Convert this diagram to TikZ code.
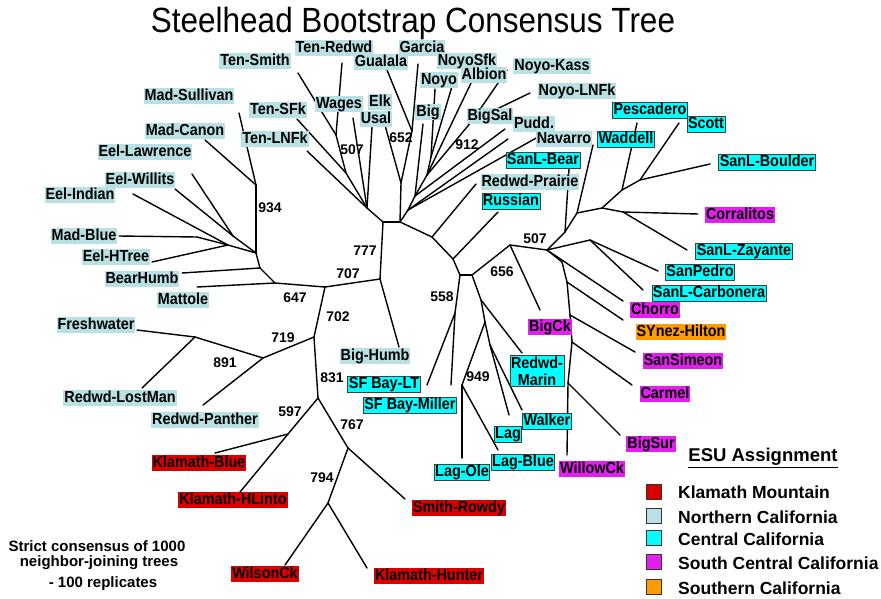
\documentclass[tikz,border=0pt]{standalone}
\usepackage{fontspec}
\setmainfont{Liberation Sans}
\newfontfamily\narrowsans{Liberation Sans}[FakeStretch=0.9]
\definecolor{nocal}{HTML}{B9E0E3}
\definecolor{cencal}{HTML}{00FFFF}
\definecolor{sccal}{HTML}{E41EF0}
\definecolor{klam}{HTML}{DA0000}
\definecolor{socal}{HTML}{FF9A00}

\begin{document}
\begin{tikzpicture}[x=1pt,y=-1pt,
    br/.style={line width=1.4pt,line cap=round},
    lab/.style={font=\narrowsans\fontsize{16}{17}\selectfont\bfseries,inner sep=1pt,text height=11.3pt,text depth=2.8pt},
    nor/.style={lab,fill=nocal},
    cen/.style={lab,fill=cencal,draw=black!75,line width=0.9pt},
    scc/.style={lab,fill=sccal},
    kla/.style={lab,fill=klam},
    soc/.style={lab,fill=socal},
    bs/.style={font=\fontsize{14}{16}\selectfont\bfseries,inner sep=0pt},
    key/.style={draw=black!80,line width=0.9pt,minimum width=15pt,minimum height=15pt,inner sep=0pt},
    keytxt/.style={font=\fontsize{17.5}{20}\selectfont\bfseries,anchor=west,inner sep=0pt}]
\useasboundingbox (0,0) rectangle (881,598);

% inner nodes of the tree
\foreach \n/\x/\y in {A/256/185, B/256/253, EW/233/236, EI/228/245, mb/197/237,
    BH/260/268, BB/275/283, C/325/287, D/380/279, E/383/222, F/400/222,
    W/367/208, N1/336/135, N2/346/173, Q/401/183, P/412/131, T/408/210,
    V3/415/196, V2/427/175, V1/431/157, R/472/121, X/432/237, Y/453/259,
    Z/460/275, AA/472/275, AB/455/313, AC/510/245, AD/547/250, AI/565/232,
    AJ/577/213, AK/602/208, AL/622/190, AM/640/180, AN/623/212, AO/590/240,
    AP/562/262, AQ/567/282, AR/570/315, AS/572/342, AT/568/383, AG/481/300,
    AE/485/322, AH/490/345, AF/462/385, G/314/337, I/263/358, J/195/337,
    H/318/398, K/288/434, L/348/448, M/328/503}
  \coordinate (\n) at (\x,\y);

% tips of the leaves
\foreach \n/\x/\y in {madsul/239/113, madcan/205/140, eellaw/192/174, eelwil/175/189,
    eelind/133/194, madblue/119/236, eelhtr/152/262, bearh/182/273, mattole/197/287,
    fresh/137/330, lostman/142/388, panther/203/405, klblue/215/453, hlinto/240/492,
    smith/405/499, wilson/285/565, hunter/367/568, bighumb/399/347, sfblt/427/385,
    sfbmil/451/385, lagole/462/458, lagblue/498/450, lag/509/415, walker/522/410,
    redmarin/522/353, bigck/540/310, willow/567/455, bigsur/620/435, carmel/632/385,
    sansim/635/352, synez/623/320, chorro/623/301, sanlcarb/643/290, sanped/658/271,
    sanlzay/687/250, corral/698/214, sanlboul/710/164, scott/679/123, pesc/637/123,
    waddell/593/145, sanlbear/569/169, russian/498/212, redprai/476/184,
    navarro/538/137, pudd/505/129, bigsal/508/139, noyolnfk/530/93, noyokass/507/70,
    albion/471/83, noyosfk/453/83, noyo/435/89, big/423/124, garcia/418/64,
    gualala/387/70, elk/383/118, usal/372/127, wages/353/118, tenredwd/342/63,
    tensmith/298/73, tensfk/297/119, tenlnfk/307/151}
  \coordinate (\n) at (\x,\y);

% branches
\foreach \a/\b in {A/B, madsul/A, madcan/A, eellaw/EW, eelwil/EW, EW/B, eelind/EI,
    madblue/mb, mb/EI, eelhtr/EI, EI/B, B/BH, bearh/BH, BH/BB, mattole/BB, BB/C,
    C/D, D/E, D/bighumb, E/W, E/F, W/N2, N2/N1, N1/tensmith, N1/tenredwd, N2/tensfk,
    W/wages, W/usal, W/tenlnfk, F/Q, Q/P, P/gualala, P/garcia, Q/elk, F/T, T/navarro,
    T/bigsal, T/V3, V3/pudd, V3/big, V3/V2, V2/V1, V1/noyo, V1/noyosfk, V2/albion,
    V2/R, R/noyokass, R/noyolnfk, F/X, X/redprai, X/Y, Y/russian, Y/Z, Z/AA, Z/AB,
    AB/sfblt, AB/sfbmil, AA/AC, AC/bigck, AC/AD, AD/AI, AI/sanlbear, AI/AJ,
    AJ/waddell, AJ/AK, AK/AL, AL/pesc, AL/AM, AM/scott, AM/sanlboul, AK/AN,
    AN/corral, AN/sanlzay, AD/AO, AO/sanped, AO/sanlcarb, AD/chorro, AD/AP, AP/AQ,
    AQ/synez, AQ/AR, AR/sansim, AR/AS, AS/carmel, AS/AT, AT/bigsur, AT/willow,
    AA/AG, AG/redmarin, AG/AE, AE/AF, AF/lagole, AF/lagblue, AE/AH, AH/lag,
    AH/walker, C/G, G/I, I/J, J/fresh, J/lostman, I/panther, G/H, H/K, K/klblue,
    K/hlinto, H/L, L/smith, L/M, M/wilson, M/hunter}
  \draw[br] (\a) -- (\b);

% bootstrap values
\node[bs] (b934) at (270,208) {934};
\node[bs] (b777) at (365,251) {777};
\node[bs] (b707) at (348,274) {707};
\node[bs] (b647) at (295,298) {647};
\node[bs] (b702) at (338,317) {702};
\node[bs] (b719) at (283,338) {719};
\node[bs] (b891) at (225,363) {891};
\node[bs] (b831) at (332,378) {831};
\node[bs] (b597) at (290,412) {597};
\node[bs] (b767) at (352,425) {767};
\node[bs] (b794) at (322,478) {794};
\node[bs] (b507a) at (352,150) {507};
\node[bs] (b652) at (401,138) {652};
\node[bs] (b912) at (467,145) {912};
\node[bs] (b558) at (442,297) {558};
\node[bs] (b656) at (502,272) {656};
\node[bs] (b507b) at (535,239) {507};
\node[bs] (b949) at (478,377) {949};

% Northern California
\node[nor] (lTenSmith) at (255,61) {Ten-Smith};
\node[nor] (lTenRedwd) at (334,48) {Ten-Redwd};
\node[nor] (lGualala) at (381,62) {Gualala};
\node[nor] (lGarcia) at (422,48) {Garcia};
\node[nor] (lNoyoSfk) at (467,61) {NoyoSfk};
\node[nor] (lNoyo) at (439,80) {Noyo};
\node[nor] (lAlbion) at (484,75) {Albion};
\node[nor] (lNoyoKass) at (552,66) {Noyo-Kass};
\node[nor] (lNoyoLNFk) at (577,91) {Noyo-LNFk};
\node[nor] (lMadSul) at (189,96) {Mad-Sullivan};
\node[nor] (lTenSFk) at (278,110) {Ten-SFk};
\node[nor] (lWages) at (339,104) {Wages};
\node[nor] (lElk) at (380,102) {Elk};
\node[nor] (lUsal) at (376,119) {Usal};
\node[nor] (lBig) at (428,112) {Big};
\node[nor] (lBigSal) at (490,116) {BigSal};
\node[nor] (lPudd) at (534,124) {Pudd.};
\node[nor] (lMadCan) at (185,131) {Mad-Canon};
\node[nor] (lTenLNFk) at (275,139) {Ten-LNFk};
\node[nor] (lNavarro) at (564,139) {Navarro};
\node[nor] (lEelLaw) at (145,152) {Eel-Lawrence};
\node[nor] (lEelWil) at (140,180) {Eel-Willits};
\node[nor] (lEelInd) at (80,195) {Eel-Indian};
\node[nor] (lMadBlue) at (84,236) {Mad-Blue};
\node[nor] (lEelHTr) at (116,257) {Eel-HTree};
\node[nor] (lBearH) at (142,279) {BearHumb};
\node[nor] (lMattole) at (183,300) {Mattole};
\node[nor] (lRedPrai) at (530,182) {Redwd-Prairie};
\node[nor] (lFresh) at (96,325) {Freshwater};
\node[nor] (lLostMan) at (120,398) {Redwd-LostMan};
\node[nor] (lPanther) at (205,420) {Redwd-Panther};
\node[nor] (lBigHumb) at (375,356) {Big-Humb};

% Central California
\node[cen] (lSanLBear) at (543,160) {SanL-Bear};
\node[cen] (lRussian) at (511,201) {Russian};
\node[cen] (lPesc) at (650,110) {Pescadero};
\node[cen] (lScott) at (706,124) {Scott};
\node[cen] (lWaddell) at (626,139) {Waddell};
\node[cen] (lSanLBoul) at (767,162) {SanL-Boulder};
\node[cen] (lSanLZay) at (744,251) {SanL-Zayante};
\node[cen] (lSanPed) at (700,272) {SanPedro};
\node[cen] (lSanLCarb) at (709,293) {SanL-Carbonera};
\node[cen] (lSFBLT) at (384,384) {SF Bay-LT};
\node[cen] (lSFBMil) at (410,405) {SF Bay-Miller};
\node[cen,text height=,text depth=,align=center] (lRedMarin) at (537,371) {Redwd-\\Marin};
\node[cen] (lWalker) at (547,421) {Walker};
\node[cen] (lLag) at (508,434) {Lag};
\node[cen] (lLagBlue) at (523,462) {Lag-Blue};
\node[cen] (lLagOle) at (462,472) {Lag-Ole};

% South Central and Southern California
\node[scc] (lCorral) at (740,215) {Corralitos};
\node[scc] (lChorro) at (655,310) {Chorro};
\node[soc] (lSYnez) at (681,332) {SYnez-Hilton};
\node[scc] (lSanSim) at (683,361) {SanSimeon};
\node[scc] (lCarmel) at (665,394) {Carmel};
\node[scc] (lBigSur) at (651,444) {BigSur};
\node[scc] (lWillow) at (592,469) {WillowCk};
\node[scc] (lBigCk) at (550,327) {BigCk};

% Klamath Mountain
\node[kla] (lKlBlue) at (199,463) {Klamath-Blue};
\node[kla] (lHLinto) at (233,500) {Klamath-HLinto};
\node[kla] (lSmith) at (459,508) {Smith-Rowdy};
\node[kla] (lWilson) at (265,574) {WilsonCk};
\node[kla] (lHunter) at (429,576) {Klamath-Hunter};

% title and note
\node (title) at (413,23) {\narrowsans\fontsize{35}{40}\selectfont Steelhead Bootstrap Consensus Tree};
\node[bs,font=\fontsize{15}{17}\selectfont\bfseries] (note1) at (97,546) {Strict consensus of 1000};
\node[bs,font=\fontsize{15}{17}\selectfont\bfseries] (note2) at (99,563) {neighbor-joining trees};
\node[bs,font=\fontsize{15}{17}\selectfont\bfseries] (note3) at (103,584) {- 100 replicates};

% legend
\node[font=\fontsize{18.5}{21}\selectfont\bfseries,inner sep=0pt] (esu) at (763,458) {\underline{ESU Assignment}};
\node[key,fill=klam] (kKla) at (654,492) {};
\node[key,fill=nocal] (kNor) at (654,516) {};
\node[key,fill=cencal] (kCen) at (654,538) {};
\node[key,fill=sccal] (kScc) at (654,562) {};
\node[key,fill=socal] (kSoc) at (654,587) {};
\node[keytxt] at (678,492) {Klamath Mountain};
\node[keytxt] at (678,517) {Northern California};
\node[keytxt] at (678,539) {Central California};
\node[keytxt] at (678,563) {South Central California};
\node[keytxt] at (678,588) {Southern California};
\end{tikzpicture}
\end{document}
